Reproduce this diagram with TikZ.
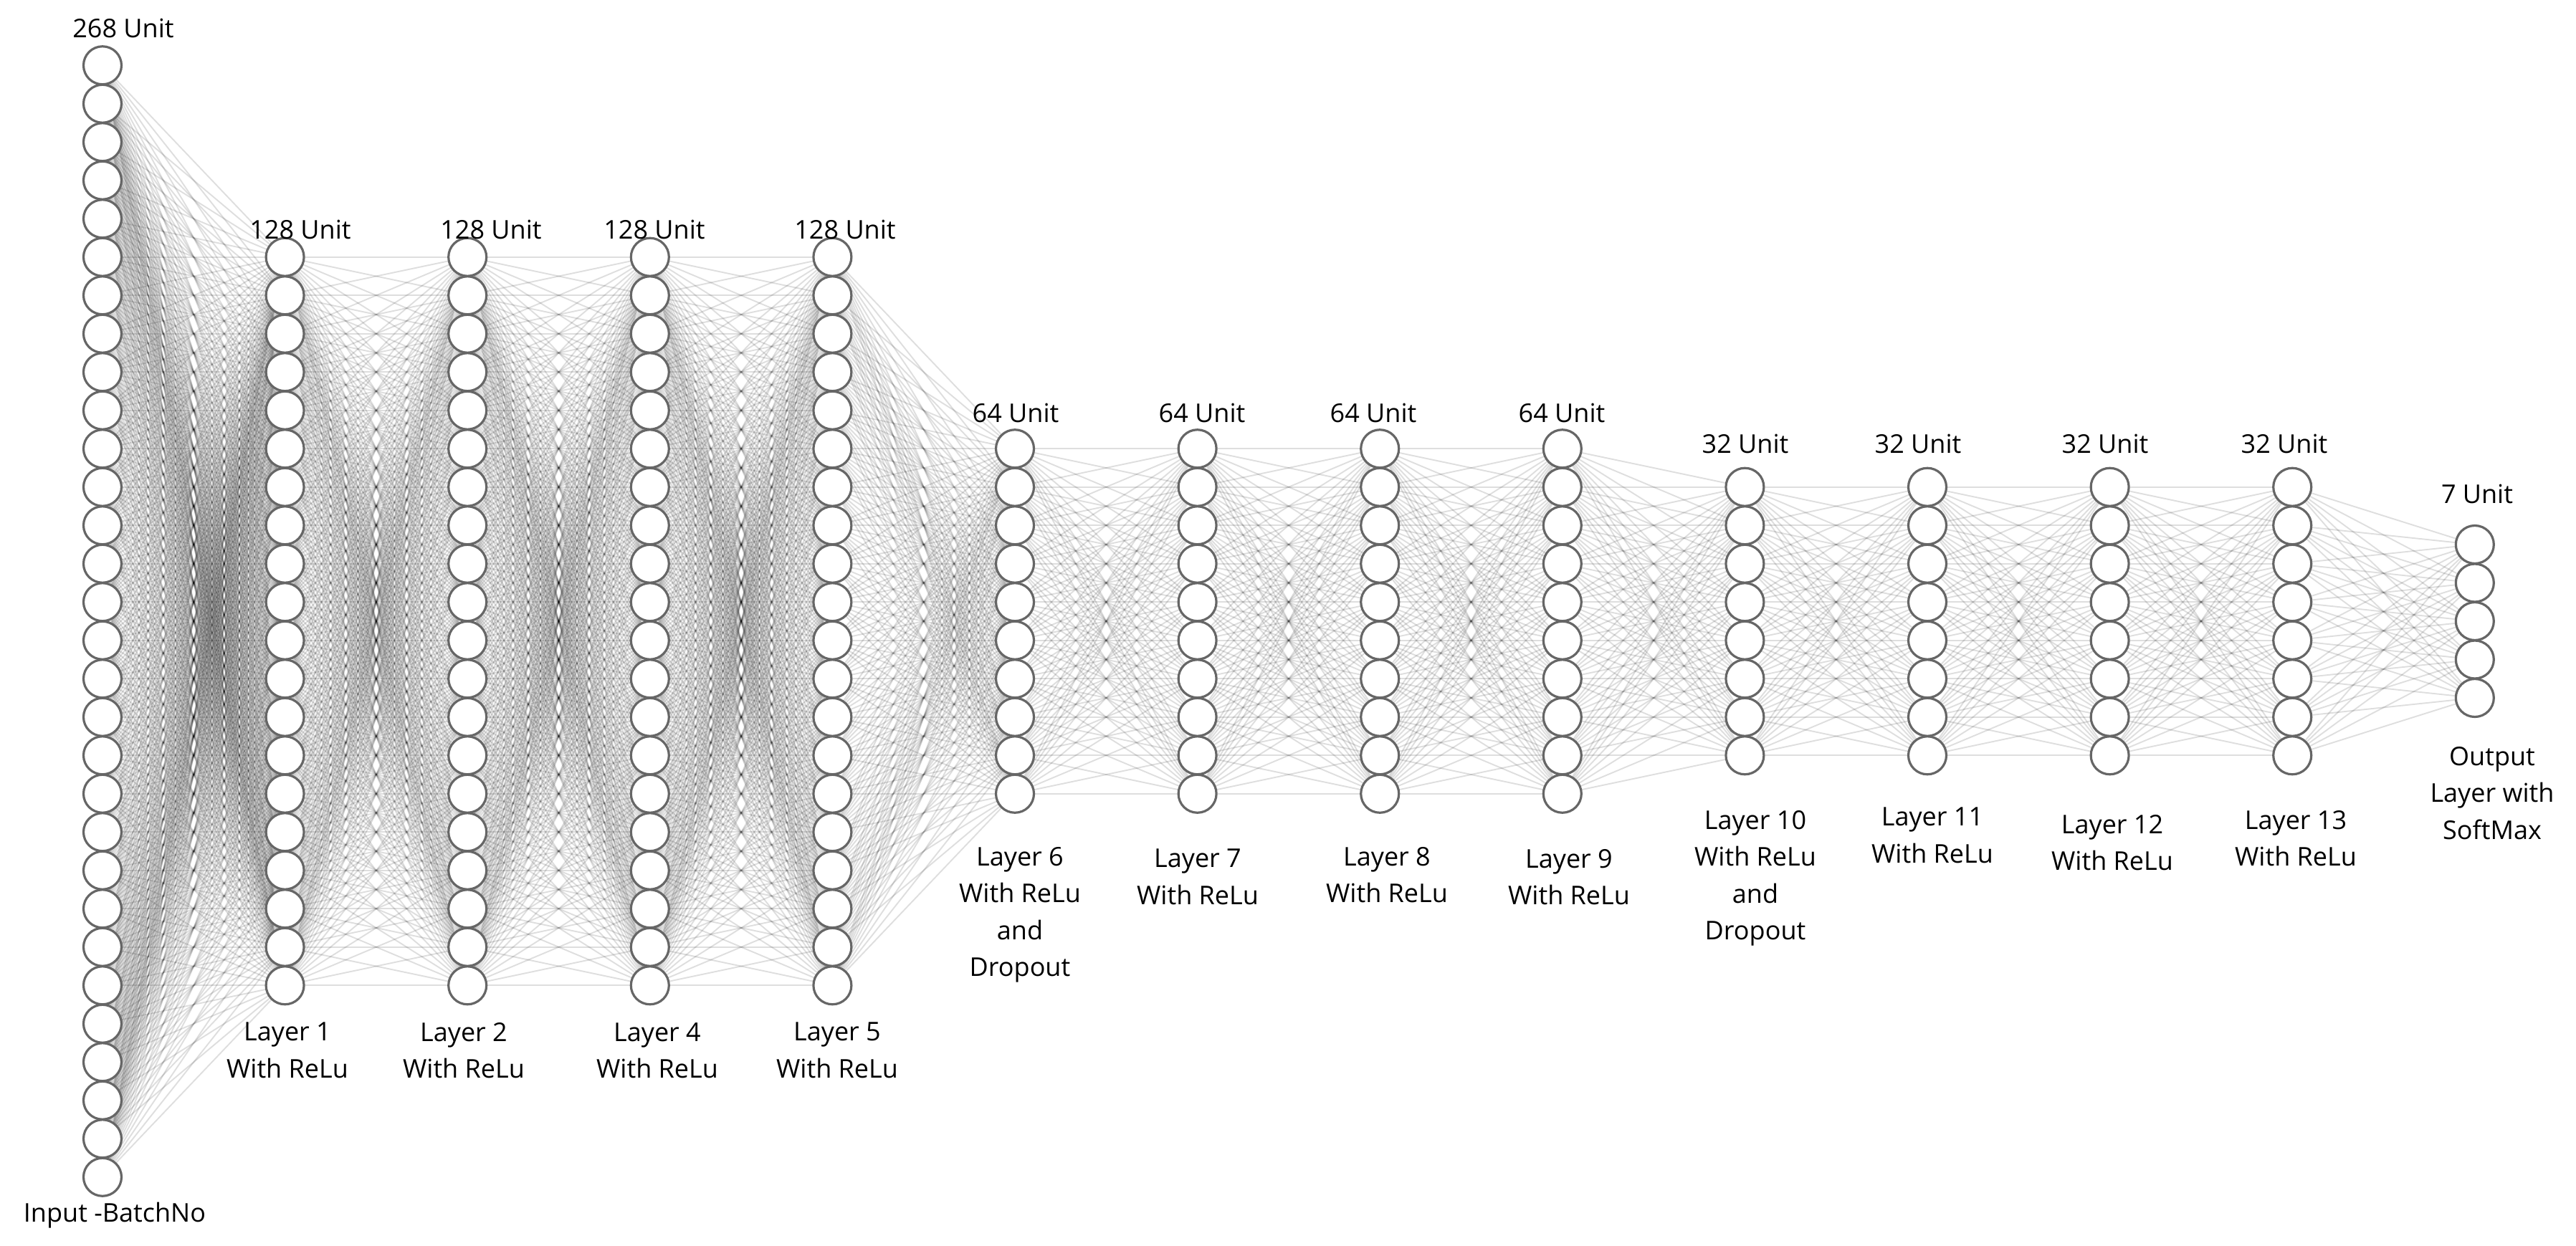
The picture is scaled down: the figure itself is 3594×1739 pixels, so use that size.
\documentclass[tikz,border=0pt]{standalone}
\usepackage{fontspec}
\setmainfont{Open Sans}
\pgfdeclarelayer{bg}
\pgfsetlayers{bg,main}
\begin{document}
\begin{tikzpicture}[x=1pt,y=-1pt,
  neuron/.style={circle,draw=black!60,line width=3.2pt,fill=white,minimum size=53pt,inner sep=0pt},
  conn/.style={draw=black,draw opacity=0.13,line width=1.9pt},
  toplbl/.style={font=\fontsize{36}{51.5}\selectfont,inner sep=0pt,anchor=base},
  botlbl/.style={font=\fontsize{36}{51.5}\selectfont,inner sep=0pt,anchor=north,align=center}]
\useasboundingbox (0,0) rectangle (3594,1739);
% neurons
\foreach \i/\n in {0/30,1/20,2/20,3/20,4/20,5/10,6/10,7/10,8/10,9/8,10/8,11/8,12/8,13/5} {
  \foreach \j in {1,...,\n} {
    \node[neuron] (n-\i-\j) at ({143+254.6*\i},{867+53.5*(\j-(\n+1)/2)}) {};
  }
}
% connections
\begin{pgfonlayer}{bg}
\foreach \i/\n/\k/\m in {0/30/1/20,1/20/2/20,2/20/3/20,3/20/4/20,4/20/5/10,5/10/6/10,6/10/7/10,7/10/8/10,8/10/9/8,9/8/10/8,10/8/11/8,11/8/12/8,12/8/13/5} {
  \foreach \j in {1,...,\n} {
    \foreach \l in {1,...,\m} {
      \draw[conn] (n-\i-\j) -- (n-\k-\l);
    }
  }
}
\end{pgfonlayer}
% unit labels
\node[toplbl] (u0) at (172,53) {268 Unit};
\node[toplbl] (u1) at (419,333) {128 Unit};
\node[toplbl] (u2) at (685,333) {128 Unit};
\node[toplbl] (u3) at (913,333) {128 Unit};
\node[toplbl] (u4) at (1179,333) {128 Unit};
\node[toplbl] (u5) at (1417,589) {64 Unit};
\node[toplbl] (u6) at (1677,589) {64 Unit};
\node[toplbl] (u7) at (1916,589) {64 Unit};
\node[toplbl] (u8) at (2179,589) {64 Unit};
\node[toplbl] (u9) at (2435,632) {32 Unit};
\node[toplbl] (u10) at (2676,632) {32 Unit};
\node[toplbl] (u11) at (2937,632) {32 Unit};
\node[toplbl] (u12) at (3187,632) {32 Unit};
\node[toplbl] (u13) at (3456,702) {7 Unit};
% layer labels
\node[botlbl] (l0) at (160,1678) {Input -BatchNo};
\node[botlbl] (l1) at (401,1427) {Layer 1\\With ReLu};
\node[botlbl] (l2) at (647,1427) {Layer 2\\With ReLu};
\node[botlbl] (l3) at (917,1427) {Layer 4\\With ReLu};
\node[botlbl] (l4) at (1168,1427) {Layer 5\\With ReLu};
\node[botlbl] (l5) at (1423,1182) {Layer 6\\With ReLu\\and\\Dropout};
\node[botlbl] (l6) at (1671,1185) {Layer 7\\With ReLu};
\node[botlbl] (l7) at (1935,1182) {Layer 8\\With ReLu};
\node[botlbl] (l8) at (2189,1185) {Layer 9\\With ReLu};
\node[botlbl] (l9) at (2449,1131) {Layer 10\\With ReLu\\and\\Dropout};
\node[botlbl] (l10) at (2696,1127) {Layer 11\\With ReLu};
\node[botlbl] (l11) at (2947,1137) {Layer 12\\With ReLu};
\node[botlbl] (l12) at (3203,1131) {Layer 13\\With ReLu};
\node[botlbl] (l13) at (3477,1042) {Output\\Layer with\\SoftMax};
\end{tikzpicture}
\end{document}
